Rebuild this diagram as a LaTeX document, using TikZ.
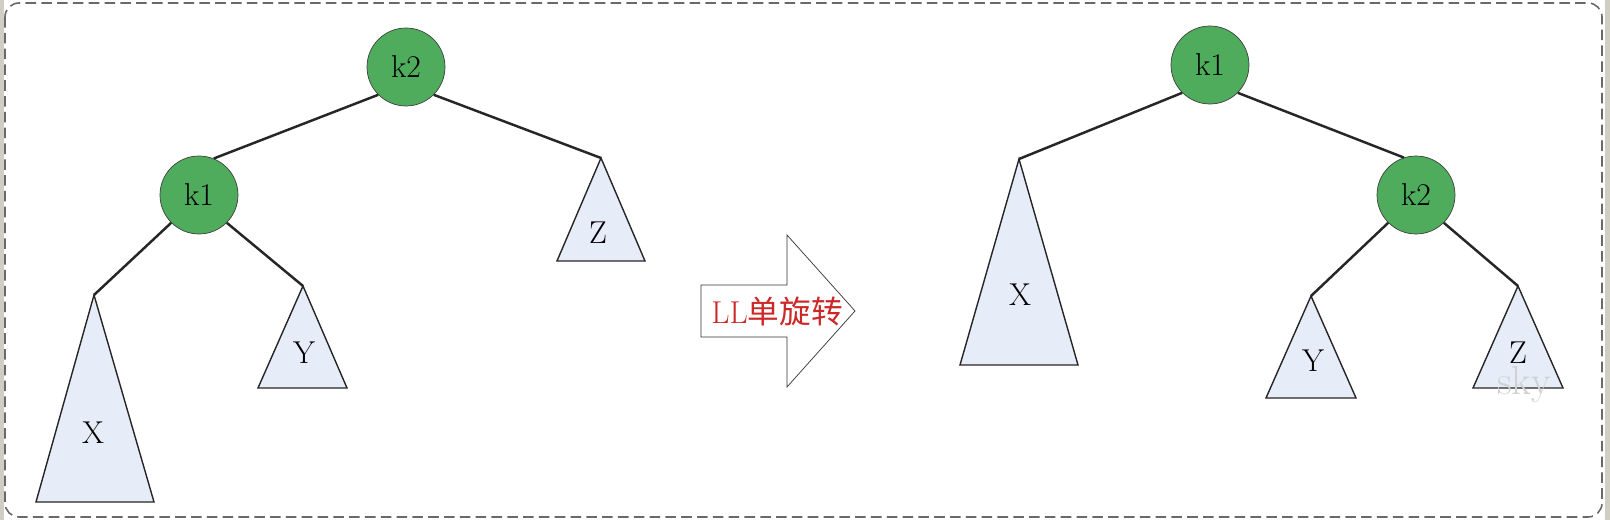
\documentclass[tikz,border=0pt]{standalone}
\usepackage{fontspec}
\newfontfamily\cjk{Noto Sans CJK SC}
\usetikzlibrary{calc}
\definecolor{verdenodo}{RGB}{78,172,92}
\definecolor{azularbol}{RGB}{230,237,248}
\definecolor{grismarco}{RGB}{105,105,105}
\definecolor{grisborde}{RGB}{208,206,194}
\definecolor{rojogiro}{RGB}{205,40,40}

\begin{document}
\begin{tikzpicture}[x=0.02cm,y=-0.02cm,
nodo/.style ={circle, draw=black!75, thin, fill=verdenodo, minimum size=1.56cm, inner sep=0pt, font=\fontsize{18}{18}\selectfont},
arbol/.style ={draw=black!85, line width=0.8pt, fill=azularbol},
hoja/.style ={inner sep=0pt, font=\fontsize{18}{18}\selectfont},
rama/.style ={draw=black!85, line width=1.4pt},
marco/.style ={draw=grismarco, line width=0.9pt, dash pattern=on 6pt off 3pt, rounded corners=0.28cm}
]
\useasboundingbox (0,0) rectangle (1610,520);
\fill[white] (0,0) rectangle (1610,520);
\fill[grisborde] (0,0) rectangle (4,520);
\fill[grisborde] (1605,0) rectangle (1610,520);
\draw[marco] (5,3) rectangle (1602,517);

% antes del giro
\draw (406,67) node[nodo] (K2) {k2};
\draw (199,195) node[nodo] (K1) {k1};
\coordinate (XA) at (94,295);
\coordinate (YA) at (303,286);
\coordinate (ZA) at (601,158);
\draw[arbol] (XA)--(36,502)--(154,502)--cycle;
\draw[arbol] (YA)--(258,388)--(347,388)--cycle;
\draw[arbol] (ZA)--(557,261)--(645,261)--cycle;
\draw (93,433) node[hoja] (X) {X};
\draw (304,353) node[hoja] (Y) {Y};
\draw (598,233) node[hoja] (Z) {Z};
\draw[rama] (K2.south west)--(K1.68);
\draw[rama] (K2.south east)--(ZA);
\draw[rama] (K1.south west)--(XA);
\draw[rama] (K1.south east)--(YA);

% flecha
\draw[black!80, thin, fill=white] (701,285)--(787,285)--(787,235)--(855,311)--(787,387)--(787,337)--(701,337)--cycle;
\draw (777,311) node[inner sep=0pt, text=rojogiro, font=\fontsize{18}{18}\selectfont] (giro) {LL\cjk 单旋转};

% despues del giro
\draw (1210,65) node[nodo] (K1b) {k1};
\draw (1416,195) node[nodo] (K2b) {k2};
\coordinate (XAb) at (1019,159);
\coordinate (YAb) at (1311,296);
\coordinate (ZAb) at (1518,286);
\draw[arbol] (XAb)--(960,365)--(1078,365)--cycle;
\draw[arbol] (YAb)--(1266,398)--(1356,398)--cycle;
\draw[arbol] (ZAb)--(1473,388)--(1563,388)--cycle;
\draw (1020,295) node[hoja] (Xb) {X};
\draw (1313,361) node[hoja] (Yb) {Y};
\draw (1518,353) node[hoja] (Zb) {Z};
\draw[rama] (K1b.south west)--(XAb);
\draw[rama] (K1b.south east)--(K2b.108);
\draw[rama] (K2b.south west)--(YAb);
\draw[rama] (K2b.south east)--(ZAb);
\draw (1524,385) node[inner sep=0pt, text=black!18, font=\fontsize{23}{23}\selectfont] (sky) {sky};

\end{tikzpicture}
\end{document}
